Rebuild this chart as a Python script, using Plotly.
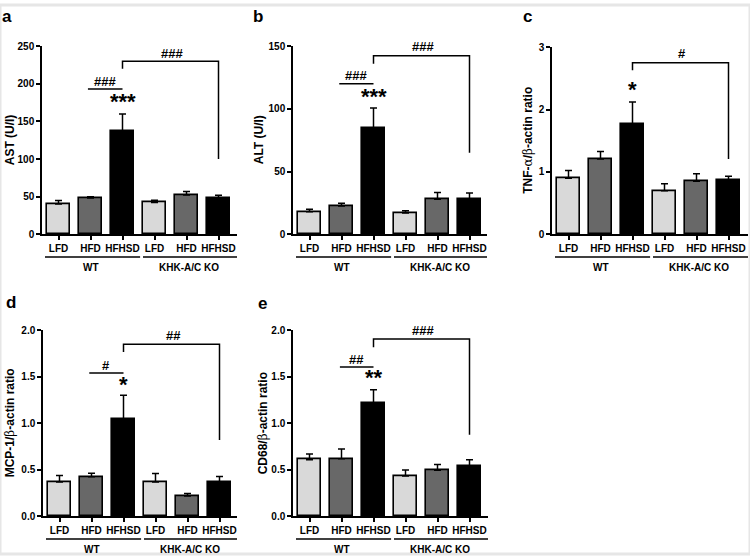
import plotly.graph_objects as go

W, H = 750, 560

# ---------------- data ----------------
categories = ["LFD", "HFD", "HFHSD", "LFD", "HFD", "HFHSD"]
group_labels = ["WT", "KHK-A/C KO"]

ast_mean = [40.5, 48.5, 137.5, 42.5, 52.5, 47.5]
ast_sem = [4.5, 1.5, 22.5, 3.0, 4.5, 4.5]

alt_mean = [18.0, 22.7, 84.6, 17.0, 28.0, 28.0]
alt_sem = [2.0, 2.1, 16.2, 1.8, 5.3, 5.0]

tnf_mean = [0.90, 1.21, 1.76, 0.70, 0.85, 0.87]
tnf_sem = [0.125, 0.12, 0.36, 0.11, 0.12, 0.06]

mcp_mean = [0.37, 0.425, 1.04, 0.37, 0.22, 0.37]
mcp_sem = [0.07, 0.04, 0.26, 0.09, 0.026, 0.058]

cd68_mean = [0.61, 0.62, 1.22, 0.435, 0.495, 0.545]
cd68_sem = [0.06, 0.105, 0.14, 0.065, 0.063, 0.065]

# significance labels: (bracket label, short-line label, star label)
ast_sig = ["###", "###", "***"]
alt_sig = ["###", "###", "***"]
tnf_sig = ["#", None, "*"]
mcp_sig = ["##", "#", "*"]
cd68_sig = ["###", "##", "**"]

# ---------------- styling ----------------
FONT = "Liberation Sans, Arial, sans-serif"
bar_colors = ["#d9d9d9", "#686868", "#000000"] * 2
SPACING = 32.0     # px between bar centres
OFFSET = 16.5      # px from y axis to first bar centre

GREEK = "<span style=\"font-family:'DejaVu Serif';font-weight:normal\">{}</span>"
alpha = GREEK.format("α")
beta = GREEK.format("β")

panels = [
    dict(letter="a", mean=ast_mean, sem=ast_sem, title="AST (U/l)",
         yrange=[0, 250], dtick=50, fmt="d", box=(42, 237, 42, 234),
         title_x=10, letter_xy=(7, 12),
         bracket=(230, 220, 100), short=(193, 0.92), top_txt=240, short_txt=203, star=176,
         sig=ast_sig),
    dict(letter="b", mean=alt_mean, sem=alt_sem, title="ALT (U/l)",
         yrange=[0, 150], dtick=50, fmt="d", box=(293, 487, 42, 234),
         title_x=259, letter_xy=(258, 12),
         bracket=(142.4, 136, 65), short=(120, 0.93), top_txt=150, short_txt=127, star=110,
         sig=alt_sig),
    dict(letter="c", mean=tnf_mean, sem=tnf_sem, title=f"TNF-{alpha}/{beta}-actin ratio",
         yrange=[0, 3], dtick=1, fmt="d", box=(552, 748, 43, 234),
         title_x=528, letter_xy=(527, 12),
         bracket=(2.75, 2.63, 1.21), short=None, top_txt=2.9, short_txt=None, star=2.32,
         sig=tnf_sig),
    dict(letter="d", mean=mcp_mean, sem=mcp_sem, title=f"MCP-1/{beta}-actin ratio",
         yrange=[0, 2], dtick=0.5, fmt=".1f", box=(43, 237, 331.7, 521.7),
         title_x=10, letter_xy=(11, 303),
         bracket=(1.85, 1.765, 0.82), short=(1.54, 0.93), top_txt=1.94, short_txt=1.625, star=1.415,
         sig=mcp_sig),
    dict(letter="e", mean=cd68_mean, sem=cd68_sem, title=f"CD68/{beta}-actin ratio",
         yrange=[0, 2], dtick=0.5, fmt=".1f", box=(293, 488, 331.7, 521.7),
         title_x=263, letter_xy=(262, 304),
         bracket=(1.905, 1.818, 0.878), short=(1.604, 0.95), top_txt=2.0, short_txt=1.68, star=1.49,
         sig=cd68_sig),
]

fig = go.Figure()
shapes = []
annotations = []
layout = {}

for i, p in enumerate(panels):
    n = "" if i == 0 else str(i + 1)
    xa, ya = "x" + n, "y" + n
    l, r, t, b = p["box"]
    width_px = r - l
    height_px = b - t
    x0 = -OFFSET / SPACING
    x1 = x0 + width_px / SPACING

    fig.add_trace(go.Bar(
        x=list(range(len(categories))), y=p["mean"], width=0.69,
        marker=dict(color=bar_colors, line=dict(color="black", width=1.6)),
        error_y=dict(type="data", symmetric=False, array=p["sem"],
                     arrayminus=[0] * len(p["sem"]), color="black", thickness=1.5, width=3.5),
        xaxis=xa, yaxis=ya, showlegend=False, hoverinfo="skip",
    ))

    layout["xaxis" + n] = dict(
        domain=[l / W, r / W], range=[x0, x1], anchor=ya,
        tickvals=list(range(len(categories))), ticktext=categories,
        ticks="outside", ticklen=4, tickwidth=1.5, tickcolor="black",
        showline=True, linecolor="black", linewidth=1.5,
        showgrid=False, zeroline=False, fixedrange=True,
        tickfont=dict(family=FONT, size=10, color="black", weight="bold"),
    )
    layout["yaxis" + n] = dict(
        domain=[(H - b) / H, (H - t) / H], range=p["yrange"], anchor=xa,
        dtick=p["dtick"], tick0=0, tickformat=p["fmt"],
        ticks="outside", ticklen=4, tickwidth=1.5, tickcolor="black",
        showline=True, linecolor="black", linewidth=1.5,
        showgrid=False, zeroline=False, fixedrange=True,
        tickfont=dict(family=FONT, size=10, color="black", weight="bold"),
    )

    # y-axis title
    annotations.append(dict(
        text=p["title"], textangle=-90, xref="paper", yref="paper",
        x=p["title_x"] / W, y=(H - (t + b) / 2) / H, xanchor="center", yanchor="middle",
        showarrow=False, font=dict(family=FONT, size=12, color="black", weight="bold"),
    ))
    # panel letter
    lx, ly = p["letter_xy"]
    annotations.append(dict(
        text=p["letter"], xref="paper", yref="paper", x=lx / W, y=(H - ly) / H,
        xanchor="center", yanchor="middle", showarrow=False,
        font=dict(family=FONT, size=17, color="black", weight="bold"),
    ))

    # group lines + labels below axis
    yd = ya + " domain"
    line_y = -23.0 / height_px
    lab_y = -33.5 / height_px
    for (gx0, gx1) in [((45 - 58.5) / SPACING, 2.55), (2.64, x1)]:
        shapes.append(dict(type="line", xref=xa, yref=yd, x0=gx0, x1=gx1,
                           y0=line_y, y1=line_y, line=dict(color="black", width=1.5)))
    for gx, g in zip([1.02, 4.07], group_labels):
        annotations.append(dict(
            text=g, xref=xa, yref=yd, x=gx, y=lab_y, xanchor="center", yanchor="middle",
            showarrow=False, font=dict(family=FONT, size=10, color="black", weight="bold"),
        ))

    # significance bracket WT-HFHSD vs KO-HFHSD
    top, ldrop, rdrop = p["bracket"]
    shapes.append(dict(type="path", xref=xa, yref=ya,
                       path=f"M 2,{ldrop} L 2,{top} L 5,{top} L 5,{rdrop}",
                       line=dict(color="black", width=1.5)))
    big_lab, short_lab, star_lab = p["sig"]
    annotations.append(dict(
        text=big_lab, xref=xa, yref=ya, x=3.55, y=p["top_txt"], xanchor="center",
        yanchor="middle", showarrow=False,
        font=dict(family=FONT, size=13, color="black", weight="bold"),
    ))
    if p["short"] is not None:
        sy, sx0 = p["short"]
        shapes.append(dict(type="line", xref=xa, yref=ya, x0=sx0, x1=2.0, y0=sy, y1=sy,
                           line=dict(color="black", width=1.5)))
        annotations.append(dict(
            text=short_lab, xref=xa, yref=ya, x=(sx0 + 2.0) / 2, y=p["short_txt"],
            xanchor="center", yanchor="middle", showarrow=False,
            font=dict(family=FONT, size=13, color="black", weight="bold"),
        ))
    annotations.append(dict(
        text=star_lab, xref=xa, yref=ya, x=2.0, y=p["star"], xanchor="center",
        yanchor="middle", showarrow=False,
        font=dict(family=FONT, size=22, color="black", weight="bold"),
    ))

# faint frame around the figure
shapes.append(dict(type="rect", xref="paper", yref="paper", x0=0, x1=1, y0=0, y1=1,
                   line=dict(color="#e6e6e6", width=3)))

fig.update_layout(
    width=W, height=H, margin=dict(l=0, r=0, t=0, b=0),
    paper_bgcolor="white", plot_bgcolor="white",
    shapes=shapes, annotations=annotations, bargap=0,
    font=dict(family=FONT, color="black"),
    **layout,
)

fig.write_html("out.html", config={"displayModeBar": False},
               post_script="document.body.style.margin='0';document.body.style.overflow='hidden';")
